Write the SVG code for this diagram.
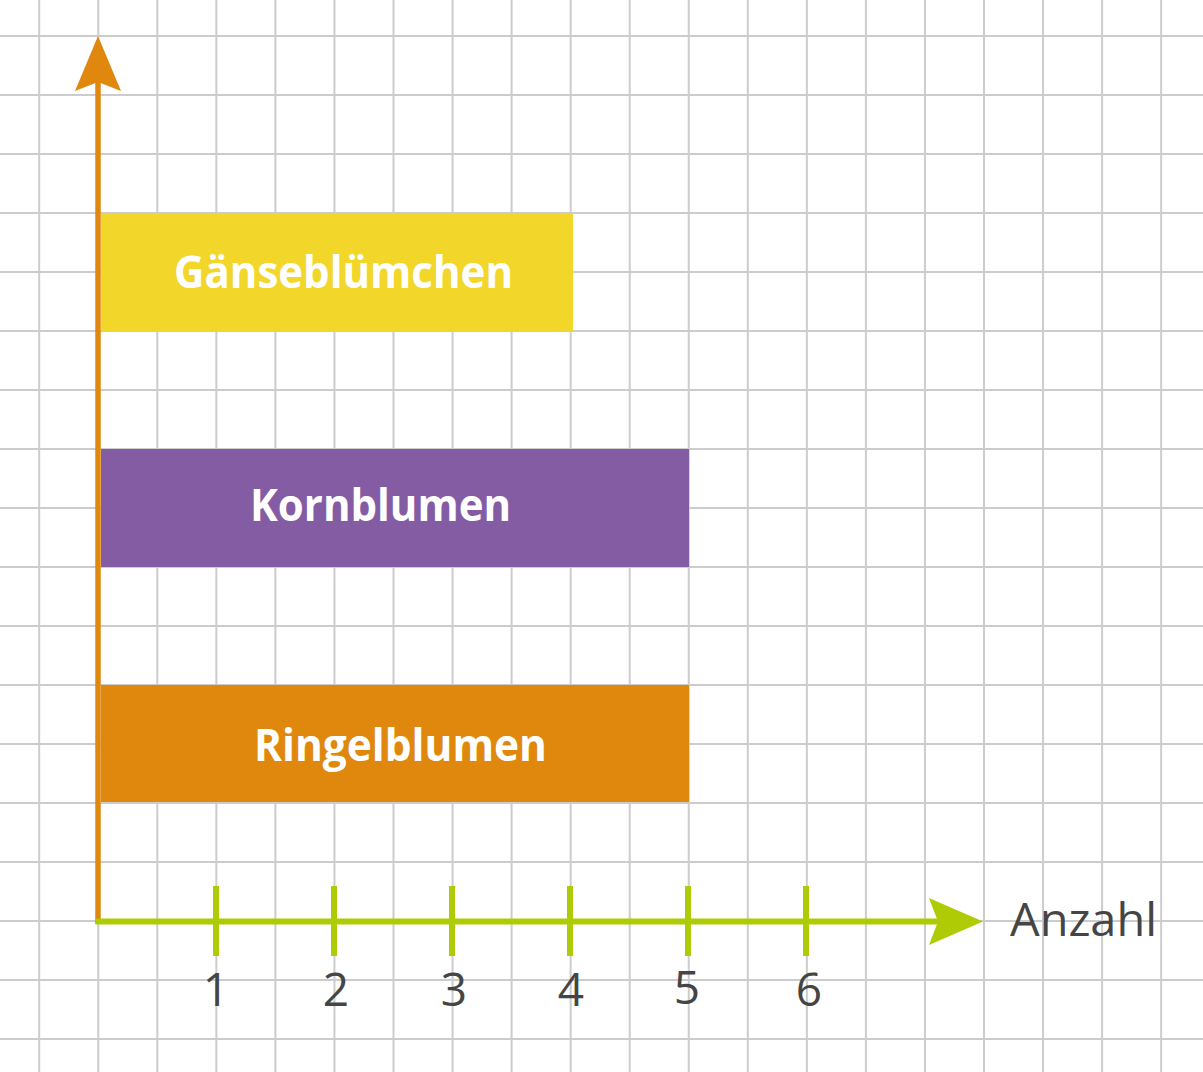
<svg xmlns="http://www.w3.org/2000/svg" width="1203" height="1072" viewBox="0 0 1203 1072">
<style>
.grid line{stroke:#cccccc;stroke-width:2}
.bar-label{font-family:"Open Sans","Noto Sans","DejaVu Sans",sans-serif;font-weight:700;font-size:45px;fill:#ffffff}
.tick-label{font-family:"Open Sans","Noto Sans","DejaVu Sans",sans-serif;font-size:46px;fill:#454545;text-anchor:middle}
.axis-label{font-family:"Open Sans","Noto Sans","DejaVu Sans",sans-serif;font-size:46px;fill:#454545}
.xaxis{stroke:#afcb05;stroke-width:6;fill:none}
.tick{stroke:#afcb05;stroke-width:6}
</style>
<rect width="1203" height="1072" fill="#ffffff"/>
<g class="grid" id="grid">
<line x1="39.2" y1="0" x2="39.2" y2="1072"/>
<line x1="98.25" y1="0" x2="98.25" y2="1072"/>
<line x1="157.3" y1="0" x2="157.3" y2="1072"/>
<line x1="216.35" y1="0" x2="216.35" y2="1072"/>
<line x1="275.4" y1="0" x2="275.4" y2="1072"/>
<line x1="334.45" y1="0" x2="334.45" y2="1072"/>
<line x1="393.5" y1="0" x2="393.5" y2="1072"/>
<line x1="452.55" y1="0" x2="452.55" y2="1072"/>
<line x1="511.6" y1="0" x2="511.6" y2="1072"/>
<line x1="570.65" y1="0" x2="570.65" y2="1072"/>
<line x1="629.7" y1="0" x2="629.7" y2="1072"/>
<line x1="688.75" y1="0" x2="688.75" y2="1072"/>
<line x1="747.8" y1="0" x2="747.8" y2="1072"/>
<line x1="806.85" y1="0" x2="806.85" y2="1072"/>
<line x1="865.9" y1="0" x2="865.9" y2="1072"/>
<line x1="924.95" y1="0" x2="924.95" y2="1072"/>
<line x1="984" y1="0" x2="984" y2="1072"/>
<line x1="1043.05" y1="0" x2="1043.05" y2="1072"/>
<line x1="1102.1" y1="0" x2="1102.1" y2="1072"/>
<line x1="1161.15" y1="0" x2="1161.15" y2="1072"/>
<line x1="0" y1="36" x2="1203" y2="36"/>
<line x1="0" y1="95" x2="1203" y2="95"/>
<line x1="0" y1="154" x2="1203" y2="154"/>
<line x1="0" y1="213" x2="1203" y2="213"/>
<line x1="0" y1="272" x2="1203" y2="272"/>
<line x1="0" y1="331" x2="1203" y2="331"/>
<line x1="0" y1="390" x2="1203" y2="390"/>
<line x1="0" y1="449" x2="1203" y2="449"/>
<line x1="0" y1="508" x2="1203" y2="508"/>
<line x1="0" y1="567" x2="1203" y2="567"/>
<line x1="0" y1="626" x2="1203" y2="626"/>
<line x1="0" y1="685" x2="1203" y2="685"/>
<line x1="0" y1="744" x2="1203" y2="744"/>
<line x1="0" y1="803" x2="1203" y2="803"/>
<line x1="0" y1="862" x2="1203" y2="862"/>
<line x1="0" y1="921" x2="1203" y2="921"/>
<line x1="0" y1="980" x2="1203" y2="980"/>
<line x1="0" y1="1039" x2="1203" y2="1039"/>
</g>
<g id="bar-gaensebluemchen">
<rect x="101" y="213" width="472" height="118" fill="#f2d629"/>
<text class="bar-label" x="174" y="288" textLength="339" lengthAdjust="spacingAndGlyphs">Gänseblümchen</text>
</g>
<g id="bar-kornblumen">
<rect x="101" y="449" width="588" height="118" fill="#845ca3"/>
<text class="bar-label" x="250" y="521" textLength="261" lengthAdjust="spacingAndGlyphs">Kornblumen</text>
</g>
<g id="bar-ringelblumen">
<rect x="101" y="685" width="588" height="117" fill="#e0870e"/>
<text class="bar-label" x="254" y="761" textLength="293" lengthAdjust="spacingAndGlyphs">Ringelblumen</text>
</g>
<g id="connectors">
<g id="y-axis">
<line x1="98" y1="924" x2="98" y2="80" stroke="#e0870e" stroke-width="5.5"/>
<polygon points="98,36 121,91 98,82 75,91" fill="#e0870e"/>
</g>
<g id="x-axis">
<line class="xaxis" x1="95.5" y1="921.5" x2="940" y2="921.5"/>
<polygon points="983,921.5 929,898 938,921.5 929,945" fill="#afcb05"/>
<line class="tick" x1="216" y1="886" x2="216" y2="956"/>
<line class="tick" x1="334" y1="886" x2="334" y2="956"/>
<line class="tick" x1="452" y1="886" x2="452" y2="956"/>
<line class="tick" x1="570" y1="886" x2="570" y2="956"/>
<line class="tick" x1="688" y1="886" x2="688" y2="956"/>
<line class="tick" x1="806" y1="886" x2="806" y2="956"/>
</g>
</g>
<g id="labels">
<text class="tick-label" x="216" y="1006">1</text>
<text class="tick-label" x="336" y="1006">2</text>
<text class="tick-label" x="454" y="1006">3</text>
<text class="tick-label" x="571" y="1006">4</text>
<text class="tick-label" x="687" y="1004">5</text>
<text class="tick-label" x="809" y="1006">6</text>
<text class="axis-label" x="1010" y="936" textLength="147" lengthAdjust="spacingAndGlyphs">Anzahl</text>
</g>
</svg>
